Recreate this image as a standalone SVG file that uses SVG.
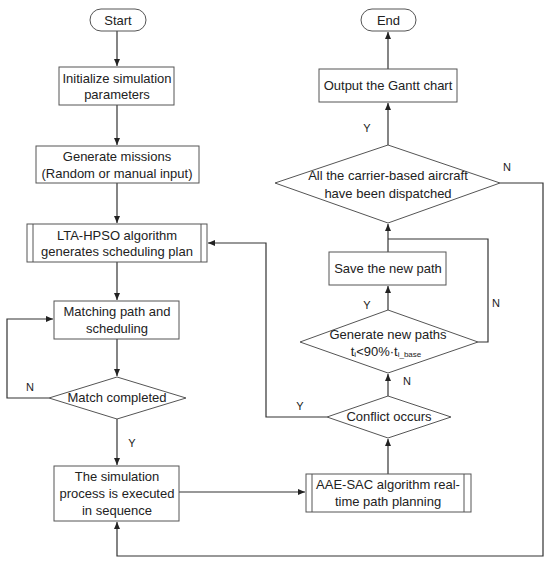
<svg xmlns="http://www.w3.org/2000/svg" width="550" height="564" viewBox="0 0 550 564">
<defs>
<marker id="arr" markerWidth="8" markerHeight="8" refX="7" refY="4" orient="auto" markerUnits="userSpaceOnUse">
<path d="M0,1 L7,4 L0,7 Z" fill="#222"/>
</marker>
<style>
.box{fill:#fff;stroke:#555;stroke-width:1}
.ln{fill:none;stroke:#333;stroke-width:1.2}
.t{font-family:"Liberation Sans",Arial,sans-serif;font-size:13px;fill:#222;text-anchor:middle}
.lb{font-family:"Liberation Sans",Arial,sans-serif;font-size:11px;fill:#222;text-anchor:middle}
</style>
</defs>
<rect width="550" height="564" fill="#fff"/>
<g id="connectors">
<path class="ln" d="M117,31 V66" marker-end="url(#arr)"/>
<path class="ln" d="M117,105 V145" marker-end="url(#arr)"/>
<path class="ln" d="M117,183 V223" marker-end="url(#arr)"/>
<path class="ln" d="M117,262 V300" marker-end="url(#arr)"/>
<path class="ln" d="M117,339 V376" marker-end="url(#arr)"/>
<path class="ln" d="M117,419 V465" marker-end="url(#arr)"/>
<path class="ln" d="M49,398 H7 V319 H53" marker-end="url(#arr)"/>
<path class="ln" d="M179,492 H305" marker-end="url(#arr)"/>
<path class="ln" d="M388,474 V439" marker-end="url(#arr)"/>
<path class="ln" d="M327,417 H266 V243 H208" marker-end="url(#arr)"/>
<path class="ln" d="M388,396 V374" marker-end="url(#arr)"/>
<path class="ln" d="M388,310 V286" marker-end="url(#arr)"/>
<path class="ln" d="M478,342 H488 V239 H388"/>
<path class="ln" d="M388,252 V224" marker-end="url(#arr)"/>
<path class="ln" d="M388,145 V103" marker-end="url(#arr)"/>
<path class="ln" d="M388,69 V32" marker-end="url(#arr)"/>
<path class="ln" d="M500,183 H543 V556 H117 V522" marker-end="url(#arr)"/>
<text class="lb" x="30" y="391">N</text>
<text class="lb" x="132" y="447">Y</text>
<text class="lb" x="300" y="410">Y</text>
<text class="lb" x="407" y="385">N</text>
<text class="lb" x="367" y="309">Y</text>
<text class="lb" x="496" y="307">N</text>
<text class="lb" x="367" y="132">Y</text>
<text class="lb" x="507" y="171">N</text>
</g>
<g id="start">
<rect class="box" x="90" y="9" width="56" height="22" rx="11"/>
<text class="t" x="118" y="24.5">Start</text>
</g>
<g id="init">
<rect class="box" x="59" y="67" width="115" height="38"/>
<text class="t" x="117" y="82.5">Initialize simulation</text>
<text class="t" x="117" y="99">parameters</text>
</g>
<g id="missions">
<rect class="box" x="36" y="146" width="163" height="37"/>
<text class="t" x="117" y="160.5">Generate missions</text>
<text class="t" x="117" y="178">(Random or manual input)</text>
</g>
<g id="lta">
<rect class="box" x="27" y="224" width="180" height="38"/>
<path class="ln" d="M33,224 V262 M201,224 V262" style="stroke:#555;stroke-width:1"/>
<text class="t" x="117" y="239.5">LTA-HPSO algorithm</text>
<text class="t" x="117" y="256">generates scheduling plan</text>
</g>
<g id="matching">
<rect class="box" x="54" y="301" width="125" height="38"/>
<text class="t" x="117" y="315.5">Matching path and</text>
<text class="t" x="117" y="332.5">scheduling</text>
</g>
<g id="matchdone">
<polygon class="box" points="117,377 186,398 117,419 49,398"/>
<text class="t" x="117" y="402">Match completed</text>
</g>
<g id="simulation">
<rect class="box" x="54" y="466" width="125" height="55"/>
<text class="t" x="117" y="480.5">The simulation</text>
<text class="t" x="117" y="497.5">process is executed</text>
<text class="t" x="117" y="514.5">in sequence</text>
</g>
<g id="aae">
<rect class="box" x="306" y="474" width="165" height="38"/>
<path class="ln" d="M312,474 V512 M464,474 V512" style="stroke:#555;stroke-width:1"/>
<text class="t" x="388" y="488.5">AAE-SAC algorithm real-</text>
<text class="t" x="388" y="505.5">time path planning</text>
</g>
<g id="conflict">
<polygon class="box" points="388,396 451,417 388,438 327,417"/>
<text class="t" x="389" y="421">Conflict occurs</text>
</g>
<g id="newpaths">
<polygon class="box" points="388,310 478,342 388,373 300,342"/>
<text class="t" x="388" y="338.5">Generate new paths</text>
<text class="t" x="386" y="355.5">t<tspan font-size="8" dy="1.5">i</tspan><tspan dy="-1.5">&lt;90%·t</tspan><tspan font-size="8" dy="1.5">i_base</tspan></text>
</g>
<g id="save">
<rect class="box" x="329" y="252" width="117" height="33"/>
<text class="t" x="388" y="273">Save the new path</text>
</g>
<g id="alldispatched">
<polygon class="box" points="388,145 500,183 388,223 275,183"/>
<text class="t" x="388" y="179.5">All the carrier-based aircraft</text>
<text class="t" x="388" y="197.5">have been dispatched</text>
</g>
<g id="output">
<rect class="box" x="319" y="69" width="138" height="33"/>
<text class="t" x="388" y="90">Output the Gantt chart</text>
</g>
<g id="end">
<rect class="box" x="361" y="9" width="55" height="22" rx="11"/>
<text class="t" x="388.5" y="24.5">End</text>
</g>
</svg>
